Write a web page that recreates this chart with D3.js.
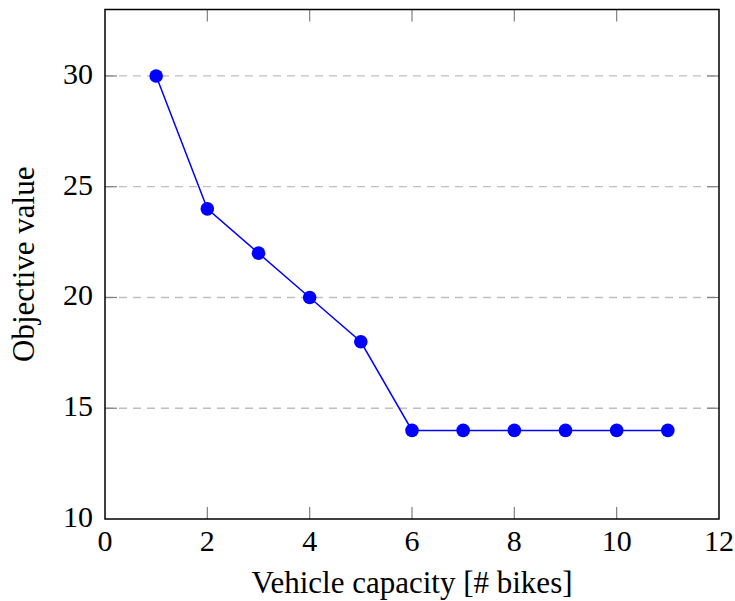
<!DOCTYPE html>
<html>
<head>
<meta charset="utf-8">
<script src="https://cdn.jsdelivr.net/npm/d3@7"></script>
<style>
  html, body { margin: 0; padding: 0; background: #fff; }
  svg { display: block; }
  text { font-family: "Liberation Serif", "DejaVu Serif", serif; fill: #000; }
</style>
</head>
<body>
<svg id="chart" width="735" height="601"></svg>
<script>
// Objective value against vehicle capacity
const capacities = [1, 2, 3, 4, 5, 6, 7, 8, 9, 10, 11];
const objectiveValues = [30, 24, 22, 20, 18, 14, 14, 14, 14, 14, 14];
const xTicks = [0, 2, 4, 6, 8, 10, 12];
const yTicks = [10, 15, 20, 25, 30];
const xLabel = "Vehicle capacity [# bikes]";
const yLabel = "Objective value";

const svg = d3.select("#chart");
const margin = { left: 105, right: 16, top: 9.5, bottom: 82 };
const W = 735, H = 601;
const x = d3.scaleLinear().domain([0, 12]).range([margin.left, W - margin.right]);
const y = d3.scaleLinear().domain([10, 33]).range([H - margin.bottom, margin.top]);

// horizontal dashed grid
svg.append("g")
  .selectAll("line")
  .data(yTicks.filter(t => t > 10))
  .join("line")
  .attr("x1", x(0)).attr("x2", x(12))
  .attr("y1", d => y(d)).attr("y2", d => y(d))
  .attr("stroke", "#bfbfbf").attr("stroke-width", 1.3)
  .attr("stroke-dasharray", "8,6");

// inward ticks on all four sides
const tickLen = 12;
const tickG = svg.append("g").attr("stroke", "#808080").attr("stroke-width", 1.2);
const xt = xTicks.filter(t => t > 0 && t < 12);
tickG.selectAll(".xb").data(xt).join("line")
  .attr("x1", d => x(d)).attr("x2", d => x(d))
  .attr("y1", y(10)).attr("y2", y(10) - tickLen);
tickG.selectAll(".xt").data(xt).join("line")
  .attr("x1", d => x(d)).attr("x2", d => x(d))
  .attr("y1", y(33)).attr("y2", y(33) + tickLen);
const yt = yTicks.filter(t => t > 10);
tickG.selectAll(".yl").data(yt).join("line")
  .attr("y1", d => y(d)).attr("y2", d => y(d))
  .attr("x1", x(0)).attr("x2", x(0) + tickLen);
tickG.selectAll(".yr").data(yt).join("line")
  .attr("y1", d => y(d)).attr("y2", d => y(d))
  .attr("x1", x(12)).attr("x2", x(12) - tickLen);

// frame
svg.append("rect")
  .attr("x", x(0)).attr("y", y(33))
  .attr("width", x(12) - x(0)).attr("height", y(10) - y(33))
  .attr("fill", "none").attr("stroke", "#000").attr("stroke-width", 1.5);

// tick labels
svg.append("g").selectAll("text").data(xTicks).join("text")
  .attr("x", d => x(d)).attr("y", y(10) + 32)
  .attr("text-anchor", "middle").attr("font-size", 30)
  .text(d => d);
svg.append("g").selectAll("text").data(yTicks).join("text")
  .attr("x", x(0) - 12).attr("y", d => y(d) + 8)
  .attr("text-anchor", "end").attr("font-size", 30)
  .text(d => d);

// axis titles
svg.append("text")
  .attr("x", (x(0) + x(12)) / 2).attr("y", 593)
  .attr("text-anchor", "middle").attr("font-size", 31)
  .text(xLabel);
svg.append("text")
  .attr("transform", `translate(34, ${(y(10) + y(33)) / 2}) rotate(-90)`)
  .attr("text-anchor", "middle").attr("font-size", 31)
  .text(yLabel);

// series
const pts = capacities.map((c, i) => [c, objectiveValues[i]]);
svg.append("path")
  .datum(pts)
  .attr("fill", "none").attr("stroke", "#0000ff").attr("stroke-width", 1.5)
  .attr("d", d3.line().x(d => x(d[0])).y(d => y(d[1])));
svg.append("g").selectAll("circle").data(pts).join("circle")
  .attr("cx", d => x(d[0])).attr("cy", d => y(d[1]))
  .attr("r", 6.8).attr("fill", "#0000ff");
</script>
</body>
</html>
